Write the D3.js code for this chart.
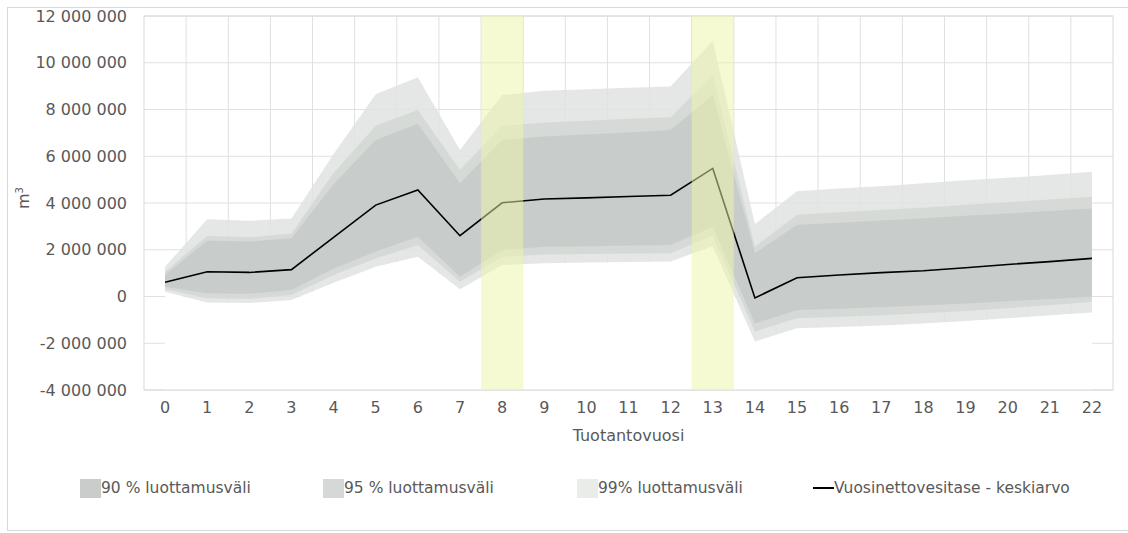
<!DOCTYPE html>
<html>
<head>
<meta charset="utf-8">
<script src="https://cdn.jsdelivr.net/npm/d3@7"></script>
<style>
  body { margin: 0; background: #fff; }
  text { font-family: "DejaVu Sans", Verdana, sans-serif; fill: #595959; }
</style>
</head>
<body>
<svg id="chart"></svg>
<script>
// categories (production year)
const years = ['0','1','2','3','4','5','6','7','8','9','10','11','12','13','14','15','16','17','18','19','20','21','22'];

// values in millions of m3
const mean = [0.61, 1.06, 1.03, 1.15, 2.53, 3.91, 4.56, 2.6, 4.01, 4.17, 4.22, 4.28, 4.33, 5.48, -0.06, 0.8, 0.92, 1.02, 1.1, 1.23, 1.37, 1.49, 1.63];
const hi99 = [1.27, 3.3, 3.24, 3.34, 6.1, 8.65, 9.38, 6.27, 8.62, 8.8, 8.87, 8.93, 8.98, 10.94, 3.1, 4.5, 4.62, 4.72, 4.85, 4.97, 5.08, 5.2, 5.34];
const hi95 = [1.06, 2.59, 2.53, 2.7, 5.28, 7.3, 7.98, 5.41, 7.3, 7.44, 7.52, 7.6, 7.67, 9.48, 2.13, 3.5, 3.6, 3.7, 3.8, 3.92, 4.03, 4.15, 4.27];
const hi90 = [0.92, 2.39, 2.35, 2.49, 4.8, 6.7, 7.38, 4.85, 6.7, 6.84, 6.93, 7.02, 7.12, 8.62, 1.85, 3.06, 3.15, 3.25, 3.35, 3.45, 3.55, 3.66, 3.77];
const lo90 = [0.42, 0.14, 0.12, 0.28, 1.2, 1.92, 2.56, 0.85, 1.99, 2.13, 2.15, 2.18, 2.2, 3.0, -1.15, -0.58, -0.52, -0.45, -0.38, -0.3, -0.2, -0.11, -0.01];
const lo95 = [0.31, -0.08, -0.1, 0.06, 0.92, 1.63, 2.2, 0.63, 1.7, 1.8, 1.82, 1.84, 1.85, 2.6, -1.5, -0.93, -0.87, -0.8, -0.72, -0.62, -0.5, -0.37, -0.22];
const lo99 = [0.2, -0.26, -0.28, -0.15, 0.59, 1.27, 1.7, 0.31, 1.35, 1.42, 1.45, 1.48, 1.5, 2.15, -1.93, -1.36, -1.3, -1.24, -1.15, -1.05, -0.93, -0.8, -0.68];

// highlighted years
const highlight = ['8', '13'];

// y ticks (millions)
const yTicks = [-4, -2, 0, 2, 4, 6, 8, 10, 12];

const legendItems = [
  { label: '90 % luottamusväli', type: 'rect', color: '#c9cccb', x: 80 },
  { label: '95 % luottamusväli', type: 'rect', color: '#d5d8d6', x: 323 },
  { label: '99% luottamusväli', type: 'rect', color: '#eaecea', x: 577 },
  { label: 'Vuosinettovesitase - keskiarvo', type: 'line', color: '#000', x: 813 }
];

const W = 1128, H = 533;
const margin = { top: 16, right: 15, bottom: 143, left: 144 };
const width = W - margin.left - margin.right;
const height = H - margin.top - margin.bottom;

const svg = d3.select('#chart').attr('width', W).attr('height', H);

// outer chart border
svg.append('rect')
  .attr('x', 7.5).attr('y', 7.5)
  .attr('width', W).attr('height', 523)
  .attr('fill', 'none').attr('stroke', '#d9d9d9');

const chart = svg.append('g')
  .attr('transform', `translate(${margin.left},${margin.top})`);

const xScale = d3.scaleBand().domain(years).range([0, width]);
const yScale = d3.scaleLinear().domain([-4, 12]).range([height, 0]);
const cx = i => xScale(years[i]) + xScale.bandwidth() / 2;

// gridlines
chart.append('g').selectAll('line.h')
  .data(yTicks)
  .enter().append('line')
    .attr('x1', 0).attr('x2', width)
    .attr('y1', d => yScale(d)).attr('y2', d => yScale(d))
    .attr('stroke', '#e0e0e0');

chart.append('g').selectAll('line.v')
  .data(years.slice(1))
  .enter().append('line')
    .attr('x1', d => xScale(d)).attr('x2', d => xScale(d))
    .attr('y1', 0).attr('y2', height)
    .attr('stroke', '#e0e0e0');

// white base under the bands (hides grid below)
const base = d3.area()
  .x((d, i) => cx(i))
  .y0(yScale(-4))
  .y1(d => yScale(d));
chart.append('path')
  .datum(lo99)
  .attr('d', base)
  .attr('fill', '#fff');

// confidence bands
const band = (lo, hi) => d3.area()
  .x((d, i) => cx(i))
  .y0((d, i) => yScale(lo[i]))
  .y1((d, i) => yScale(hi[i]))(years);

chart.append('path').attr('d', band(lo99, hi99)).attr('fill', '#dfe3e0').attr('opacity', 0.85);
chart.append('path').attr('d', band(lo95, hi95)).attr('fill', '#d3d7d4').attr('opacity', 0.85);
chart.append('path').attr('d', band(lo90, hi90)).attr('fill', '#c6c9c8').attr('opacity', 0.85);

// plot border
chart.append('rect')
  .attr('x', 0).attr('y', 0)
  .attr('width', width).attr('height', height)
  .attr('fill', 'none').attr('stroke', '#d9d9d9');

// mean line
chart.append('path')
  .datum(mean)
  .attr('d', d3.line().x((d, i) => cx(i)).y(d => yScale(d)))
  .attr('fill', 'none')
  .attr('stroke', '#000')
  .attr('stroke-width', 1.6);

// yellow highlight columns
chart.append('g').selectAll('rect')
  .data(highlight)
  .enter().append('rect')
    .attr('x', d => xScale(d))
    .attr('y', 0)
    .attr('width', xScale.bandwidth())
    .attr('height', height)
    .attr('fill', '#eef5a8')
    .attr('opacity', 0.5);

// axes
const fmt = d => d3.format(',')(d * 1e6).replace(/,/g, ' ').replace('\u2212', '-');
const yAxis = d3.axisLeft(yScale).tickValues(yTicks).tickFormat(fmt).tickSize(0).tickPadding(17);
const xAxis = d3.axisBottom(xScale).tickSize(0).tickPadding(12);

const yAxisGroup = chart.append('g').call(yAxis);
const xAxisGroup = chart.append('g').attr('transform', `translate(0,${height})`).call(xAxis);
[yAxisGroup, xAxisGroup].forEach(g => {
  g.select('.domain').remove();
  g.selectAll('text').style('font-size', '16px').attr('fill', '#595959');
});

// axis titles
chart.append('text')
  .attr('x', width / 2).attr('y', height + 51)
  .attr('text-anchor', 'middle')
  .style('font-size', '16px')
  .text('Tuotantovuosi');

const yTitle = svg.append('text')
  .attr('transform', 'translate(29,198) rotate(-90)')
  .attr('text-anchor', 'middle')
  .style('font-size', '16px');
yTitle.append('tspan').text('m');
yTitle.append('tspan').attr('dy', -6).style('font-size', '10px').text('3');

// legend
const legend = svg.append('g');
legendItems.forEach(item => {
  const g = legend.append('g').attr('transform', `translate(${item.x},488)`);
  if (item.type === 'rect') {
    g.append('rect').attr('x', 0).attr('y', -9).attr('width', 21).attr('height', 19).attr('fill', item.color);
  } else {
    g.append('line').attr('x1', 0).attr('x2', 21).attr('y1', 0).attr('y2', 0)
      .attr('stroke', item.color).attr('stroke-width', 2);
  }
  g.append('text')
    .attr('x', 21).attr('y', 5)
    .style('font-size', '15.5px')
    .text(item.label);
});
</script>
</body>
</html>
